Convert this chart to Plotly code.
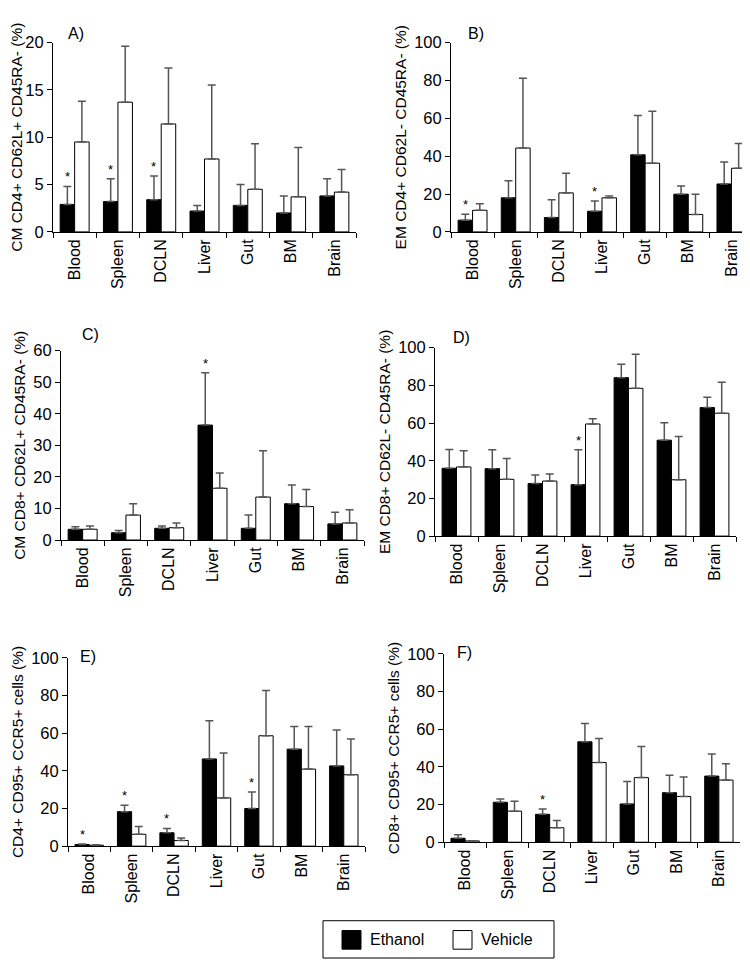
import plotly.graph_objects as go

categories = ["Blood", "Spleen", "DCLN", "Liver", "Gut", "BM", "Brain"]

A_eth = [2.9, 3.2, 3.4, 2.2, 2.8, 2.0, 3.8]
A_eth_err = [1.9, 2.4, 2.5, 0.6, 2.2, 1.8, 1.8]
A_veh = [9.5, 13.7, 11.4, 7.7, 4.5, 3.7, 4.2]
A_veh_err = [4.3, 5.9, 5.9, 7.8, 4.8, 5.2, 2.4]

B_eth = [6.2, 18.0, 7.6, 10.9, 40.7, 19.9, 25.3]
B_eth_err = [3.1, 9.0, 9.4, 5.4, 20.7, 4.3, 11.6]
B_veh = [11.4, 44.3, 20.6, 18.0, 36.3, 9.2, 33.6]
B_veh_err = [3.5, 36.8, 10.4, 0.9, 27.4, 10.7, 13.1]

C_eth = [3.4, 2.3, 3.7, 36.4, 3.7, 11.5, 5.1]
C_eth_err = [0.8, 0.7, 0.7, 16.6, 4.2, 5.9, 3.7]
C_veh = [3.4, 7.9, 3.9, 16.4, 13.6, 10.6, 5.4]
C_veh_err = [1.0, 3.6, 1.5, 4.8, 14.7, 5.4, 4.2]

D_eth = [36.0, 35.8, 27.9, 27.3, 84.1, 50.9, 68.2]
D_eth_err = [10.0, 10.0, 4.5, 18.5, 7.1, 9.3, 5.5]
D_veh = [36.7, 30.1, 29.2, 59.5, 78.4, 29.9, 65.2]
D_veh_err = [8.6, 11.1, 3.7, 2.8, 18.1, 22.9, 16.5]

E_eth = [0.9, 18.3, 7.1, 46.3, 20.0, 51.5, 42.6]
E_eth_err = [0.3, 3.4, 2.3, 20.3, 8.7, 12.0, 19.0]
E_veh = [0.5, 6.3, 3.0, 25.6, 58.6, 40.9, 37.9]
E_veh_err = [0.2, 4.1, 1.3, 23.8, 24.0, 22.6, 19.0]

F_eth = [2.1, 21.2, 14.8, 53.3, 20.3, 26.3, 35.1]
F_eth_err = [1.9, 1.8, 2.9, 9.7, 12.0, 9.2, 11.7]
F_veh = [0.7, 16.5, 7.7, 42.3, 34.3, 24.3, 33.0]
F_veh_err = [0.1, 5.2, 3.8, 12.8, 16.5, 10.3, 8.7]

y_titles = ["CM CD4+ CD62L+ CD45RA- (%)", "EM CD4+ CD62L- CD45RA- (%)",
            "CM CD8+ CD62L+ CD45RA- (%)", "EM CD8+ CD62L- CD45RA- (%)",
            "CD4+ CD95+ CCR5+ cells (%)", "CD8+ CD95+ CCR5+ cells (%)"]
panel_labels = ["A)", "B)", "C)", "D)", "E)", "F)"]
y_max = [20, 100, 60, 100, 100, 100]
y_step = [5, 20, 10, 20, 20, 20]
stars = [["Blood", "Spleen", "DCLN"], ["Blood", "Liver"], ["Liver"], ["Liver"],
         ["Blood", "Spleen", "DCLN", "Gut"], ["DCLN"]]
series_names = ["Ethanol", "Vehicle"]

panels = [
    (A_eth, A_eth_err, A_veh, A_veh_err),
    (B_eth, B_eth_err, B_veh, B_veh_err),
    (C_eth, C_eth_err, C_veh, C_veh_err),
    (D_eth, D_eth_err, D_veh, D_veh_err),
    (E_eth, E_eth_err, E_veh, E_veh_err),
    (F_eth, F_eth_err, F_veh, F_veh_err),
]

W, H = 750, 960
# pixel boxes: x0, x1, ytop, ybottom
boxes = [(45, 348, 26, 219), (443, 745, 26, 219),
         (53, 356, 340, 533), (427, 728, 337, 529),
         (60, 357, 653, 845), (436, 732, 649, 841)]
label_pos = [(58, 17), (458, 17), (72, 324), (443, 327), (70, 652), (447, 648)]

FONT = "Liberation Sans, Arial, Helvetica, sans-serif"
BARGAP = 0.33

fig = go.Figure()
layout = dict(width=W, height=H, margin=dict(l=0, r=0, t=0, b=0),
              paper_bgcolor="white", plot_bgcolor="white",
              barmode="group", bargap=BARGAP, bargroupgap=0,
              showlegend=False, font=dict(family=FONT, color="black"))
annotations = []
shapes = []

for i, (eth, eth_err, veh, veh_err) in enumerate(panels):
    n = "" if i == 0 else str(i + 1)
    xa, ya = "x" + n, "y" + n
    for vals, errs, name, fill in [(eth, eth_err, series_names[0], "black"),
                                   (veh, veh_err, series_names[1], "white")]:
        fig.add_trace(go.Bar(
            x=categories, y=vals, name=name, xaxis=xa, yaxis=ya,
            marker=dict(color=fill, line=dict(color="black", width=1)),
            error_y=dict(type="data", symmetric=False, array=errs,
                         arrayminus=[0] * len(errs), color="#555555",
                         thickness=1.5, width=4),
        ))
    x0, x1, yt, yb = boxes[i]
    layout["xaxis" + n] = dict(
        domain=[x0 / W, x1 / W], anchor=ya, type="category",
        showline=True, linecolor="black", linewidth=1,
        ticks="outside", ticklen=5, tickcolor="black", tickson="boundaries",
        tickangle=-90, tickfont=dict(size=16, family=FONT),
        showgrid=False, zeroline=False, fixedrange=True)
    layout["yaxis" + n] = dict(
        domain=[1 - yb / H, 1 - yt / H], anchor=xa,
        range=[0, y_max[i]], dtick=y_step[i], tick0=0,
        showline=True, linecolor="black", linewidth=1,
        ticks="outside", ticklen=5, tickcolor="black",
        tickfont=dict(size=16.5, family=FONT),
        title=dict(text=y_titles[i], font=dict(size=15.5, family=FONT), standoff=3),
        showgrid=False, zeroline=False, fixedrange=True)
    lx, ly = label_pos[i]
    annotations.append(dict(xref="paper", yref="paper", x=lx / W, y=1 - ly / H,
                            text=panel_labels[i], showarrow=False,
                            xanchor="left", yanchor="middle",
                            font=dict(size=16, family=FONT)))
    group_px = (x1 - x0) / len(categories)
    offset_px = -(1 - BARGAP) / 4 * group_px
    for cat in stars[i]:
        k = categories.index(cat)
        annotations.append(dict(xref=xa, yref=ya, x=cat, y=eth[k] + eth_err[k],
                                xshift=offset_px, text="*", showarrow=False,
                                xanchor="center", yanchor="bottom",
                                font=dict(size=13, family=FONT)))

# legend box drawn manually
shapes.append(dict(type="rect", xref="paper", yref="paper",
                   x0=315 / W, x1=546 / W, y0=1 - 959 / H, y1=1 - 921 / H,
                   line=dict(color="black", width=1), fillcolor="white"))
shapes.append(dict(type="rect", xref="paper", yref="paper",
                   x0=334 / W, x1=353 / W, y0=1 - 950 / H, y1=1 - 931 / H,
                   line=dict(color="black", width=1), fillcolor="black"))
shapes.append(dict(type="rect", xref="paper", yref="paper",
                   x0=445 / W, x1=464 / W, y0=1 - 950 / H, y1=1 - 931 / H,
                   line=dict(color="black", width=1), fillcolor="white"))
annotations.append(dict(xref="paper", yref="paper", x=360 / W, y=1 - 940.5 / H,
                        text=series_names[0], showarrow=False, xanchor="left",
                        yanchor="middle", font=dict(size=16, family=FONT)))
annotations.append(dict(xref="paper", yref="paper", x=471 / W, y=1 - 940.5 / H,
                        text=series_names[1], showarrow=False, xanchor="left",
                        yanchor="middle", font=dict(size=16, family=FONT)))

layout["annotations"] = annotations
layout["shapes"] = shapes
fig.update_layout(**layout)
fig.write_html("out.html")
